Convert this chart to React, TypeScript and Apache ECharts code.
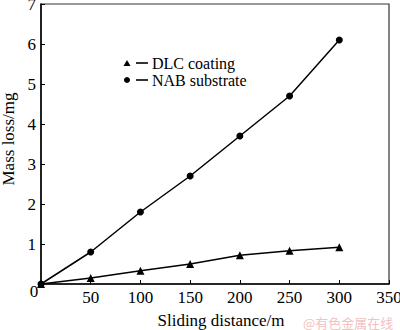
import React, { useEffect, useRef } from "react";
import * as echarts from "echarts";

const distances = [0, 50, 100, 150, 200, 250, 300];
const dlcCoating = [0, 0.15, 0.33, 0.5, 0.72, 0.83, 0.92];
const nabSubstrate = [0, 0.8, 1.8, 2.7, 3.7, 4.7, 6.1];
const seriesNames = ["DLC coating", "NAB substrate"];
const xTitle = "Sliding distance/m";
const yTitle = "Mass loss/mg";
const watermark = "@有色金属在线";

const FONT = "'Liberation Serif', 'Times New Roman', serif";

export default function App() {
  const ref = useRef<HTMLDivElement>(null);
  useEffect(() => {
    if (!ref.current) return;
    const chart = echarts.init(ref.current, null, { renderer: "svg" });
    const axisLine = { lineStyle: { color: "#000", width: 1.5 } };
    chart.setOption({
      animation: false,
      backgroundColor: "#fff",
      grid: {
        left: 41,
        top: 4,
        right: 11,
        bottom: 46,
        containLabel: false,
        outerBoundsMode: "none",
        show: true,
        borderColor: "#333",
        borderWidth: 1.2,
      },
      xAxis: {
        type: "value",
        min: 0,
        max: 350,
        interval: 50,
        axisLine,
        axisTick: { show: true, inside: true, length: 4, lineStyle: { color: "#000" } },
        splitLine: { show: false },
        axisLabel: {
          color: "#000",
          fontFamily: FONT,
          fontSize: 17,
          margin: 5,
          formatter: (v: number) => (v === 0 ? "" : String(v)),
        },
        name: xTitle,
        nameLocation: "middle",
        nameGap: 28,
        nameTextStyle: { color: "#000", fontFamily: FONT, fontSize: 17, padding: [0, 0, 0, 12] },
      },
      yAxis: {
        type: "value",
        min: 0,
        max: 7,
        interval: 1,
        axisLine: { show: true, ...axisLine },
        axisTick: { show: true, inside: true, length: 4, lineStyle: { color: "#000" } },
        splitLine: { show: false },
        axisLabel: {
          color: "#000",
          fontFamily: FONT,
          fontSize: 17,
          margin: 5,
          formatter: (v: number) => (v === 0 ? "" : String(v)),
        },
        name: yTitle,
        nameLocation: "middle",
        nameGap: 22,
        nameTextStyle: { color: "#000", fontFamily: FONT, fontSize: 17, padding: [0, 0, 0, 10] },
      },
      series: [
        {
          name: seriesNames[0],
          type: "line",
          data: distances.map((d, i) => [d, dlcCoating[i]]),
          symbol: "triangle",
          symbolSize: 8,
          itemStyle: { color: "#000" },
          lineStyle: { color: "#000", width: 1.5 },
        },
        {
          name: seriesNames[1],
          type: "line",
          data: distances.map((d, i) => [d, nabSubstrate[i]]),
          symbol: "circle",
          symbolSize: 7,
          itemStyle: { color: "#000" },
          lineStyle: { color: "#000", width: 1.5 },
        },
      ],
      graphic: [
        {
          type: "text",
          x: 34,
          y: 291,
          style: { text: "0", fontFamily: FONT, fontSize: 17, fill: "#000", align: "center", verticalAlign: "middle" },
        },
        {
          type: "polygon",
          shape: { points: [[127, 60], [123.5, 66], [130.5, 66]] },
          style: { fill: "#000" },
        },
        { type: "line", shape: { x1: 136, y1: 63, x2: 148, y2: 63 }, style: { stroke: "#000", lineWidth: 1.6 } },
        {
          type: "text",
          x: 152,
          y: 63,
          style: { text: seriesNames[0], fontFamily: FONT, fontSize: 16, fill: "#000", verticalAlign: "middle" },
        },
        { type: "circle", shape: { cx: 127, cy: 80, r: 3 }, style: { fill: "#000" } },
        { type: "line", shape: { x1: 136, y1: 80, x2: 148, y2: 80 }, style: { stroke: "#000", lineWidth: 1.6 } },
        {
          type: "text",
          x: 152,
          y: 80,
          style: { text: seriesNames[1], fontFamily: FONT, fontSize: 16, fill: "#000", verticalAlign: "middle" },
        },
        {
          type: "text",
          x: 303,
          y: 322,
          style: {
            text: watermark,
            fontFamily: "'Noto Sans CJK SC', sans-serif",
            fontSize: 13,
            fill: "#f2c2c2",
            verticalAlign: "middle",
          },
        },
      ],
    });
    return () => chart.dispose();
  }, []);
  return <div ref={ref} style={{ width: 400, height: 330, position: "absolute", left: 0, top: 0 }} />;
}
